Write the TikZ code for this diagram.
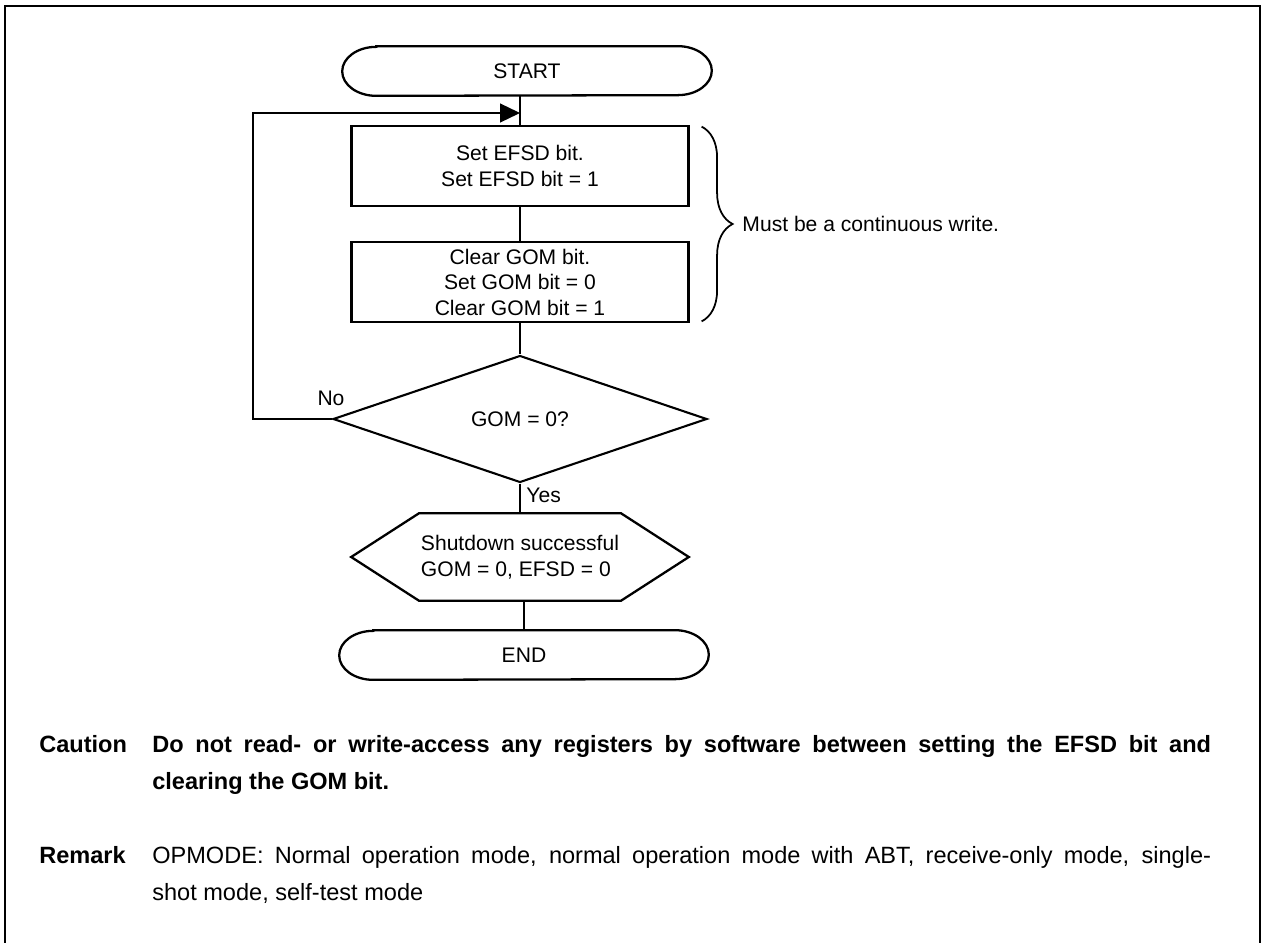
\documentclass[tikz,border=0pt]{standalone}
\usepackage{fontspec}
\setmainfont{Liberation Sans}
\usetikzlibrary{shapes.geometric,arrows.meta,decorations.pathreplacing}

\begin{document}
\begin{tikzpicture}[
  x=0.02cm, y=-0.02cm,
  font=\fontsize{12}{14.5}\selectfont,
  stepbox/.style={draw, line width=1.3pt, minimum width=6.74cm, minimum height=1.61cm, align=center, inner sep=0pt},
  terminal/.style={minimum width=7.38cm, minimum height=0.98cm, inner sep=0pt},
  decision/.style={diamond, draw, line width=1.2pt, minimum width=7.48cm, minimum height=2.54cm, inner sep=0pt},
  hexbox/.style={minimum width=6.74cm, minimum height=1.74cm, align=left, inner sep=0pt},
  outline/.style={line width=1.3pt},
  flow/.style={line width=0.7pt},
  note/.style={anchor=base west, inner sep=0pt, font=\fontsize{13.4}{16}\selectfont}
]
\useasboundingbox (0,0) rectangle (1262,943);

% page frame, open at the bottom
\draw[line width=1.5pt] (5,943) -- (5,6) -- (1260,6) -- (1260,943);

% flow chart
\node[terminal] (start) at (527,71) {START};
\node[stepbox] (efsd) at (520,166) {Set EFSD bit.\\Set EFSD bit = 1};
\node[stepbox] (gom) at (520,282) {Clear GOM bit.\\Set GOM bit = 0\\Clear GOM bit = 1};
\node[decision] (test) at (520,419) {GOM = 0?};
\node[hexbox] (done) at (520,557) {Shutdown successful\\GOM = 0, EFSD = 0};
\node[terminal] (finish) at (524,655) {END};

\foreach \t in {start,finish} {
  \draw[outline] ([xshift=0.68cm]\t.north west) -- ([xshift=-0.68cm]\t.north east)
    arc[start angle=90, end angle=-90, x radius=0.68cm, y radius=0.49cm]
    -- ([xshift=0.68cm]\t.south west)
    arc[start angle=270, end angle=90, x radius=0.68cm, y radius=0.49cm] -- cycle;
}
\draw[outline] ([xshift=1.36cm]done.north west) -- ([xshift=-1.36cm]done.north east)
  -- (done.east) -- ([xshift=-1.36cm]done.south east)
  -- ([xshift=1.36cm]done.south west) -- (done.west) -- cycle;

\coordinate (merge) at (520,113);
\coordinate (corner) at (253,113);

\draw[flow] (efsd.north |- start.south) -- (efsd.north);
\draw[flow] (efsd) -- (gom);
\draw[flow] (gom) -- (test);
\draw[flow] (test) -- node[right, pos=0.4] {Yes} (done);
\draw[flow] (finish.north |- done.south) -- (finish.north);
\draw[flow, -{Triangle[length=0.4cm, width=0.38cm]}] (test.west) -| (corner) -- (merge);
\node (no) at (331,398) {No};

\draw[decorate, decoration={brace, amplitude=0.62cm}, line width=1pt]
  ([xshift=0.24cm, yshift=-0.04cm]efsd.north east) -- ([xshift=0.24cm, yshift=0.04cm]gom.south east)
  node[midway, right=0.8cm, inner sep=0pt] (cont) {Must be a continuous write.};

% notes below the chart
\node[note] (caution) at (39,752) {\bfseries Caution};
\node[note] (cautionA) at (152,752) {\bfseries\makebox[21.18cm][s]{Do not read- or write-access any registers by software between setting the EFSD bit and}};
\node[note] (cautionB) at (152,789) {\bfseries clearing the GOM bit.};
\node[note] (remark) at (39,863) {\bfseries Remark};
\node[note] (remarkA) at (152,863) {\makebox[21.18cm][s]{OPMODE: Normal operation mode, normal operation mode with ABT, receive-only mode, single-}};
\node[note] (remarkB) at (152,900) {shot mode, self-test mode};
\end{tikzpicture}
\end{document}
